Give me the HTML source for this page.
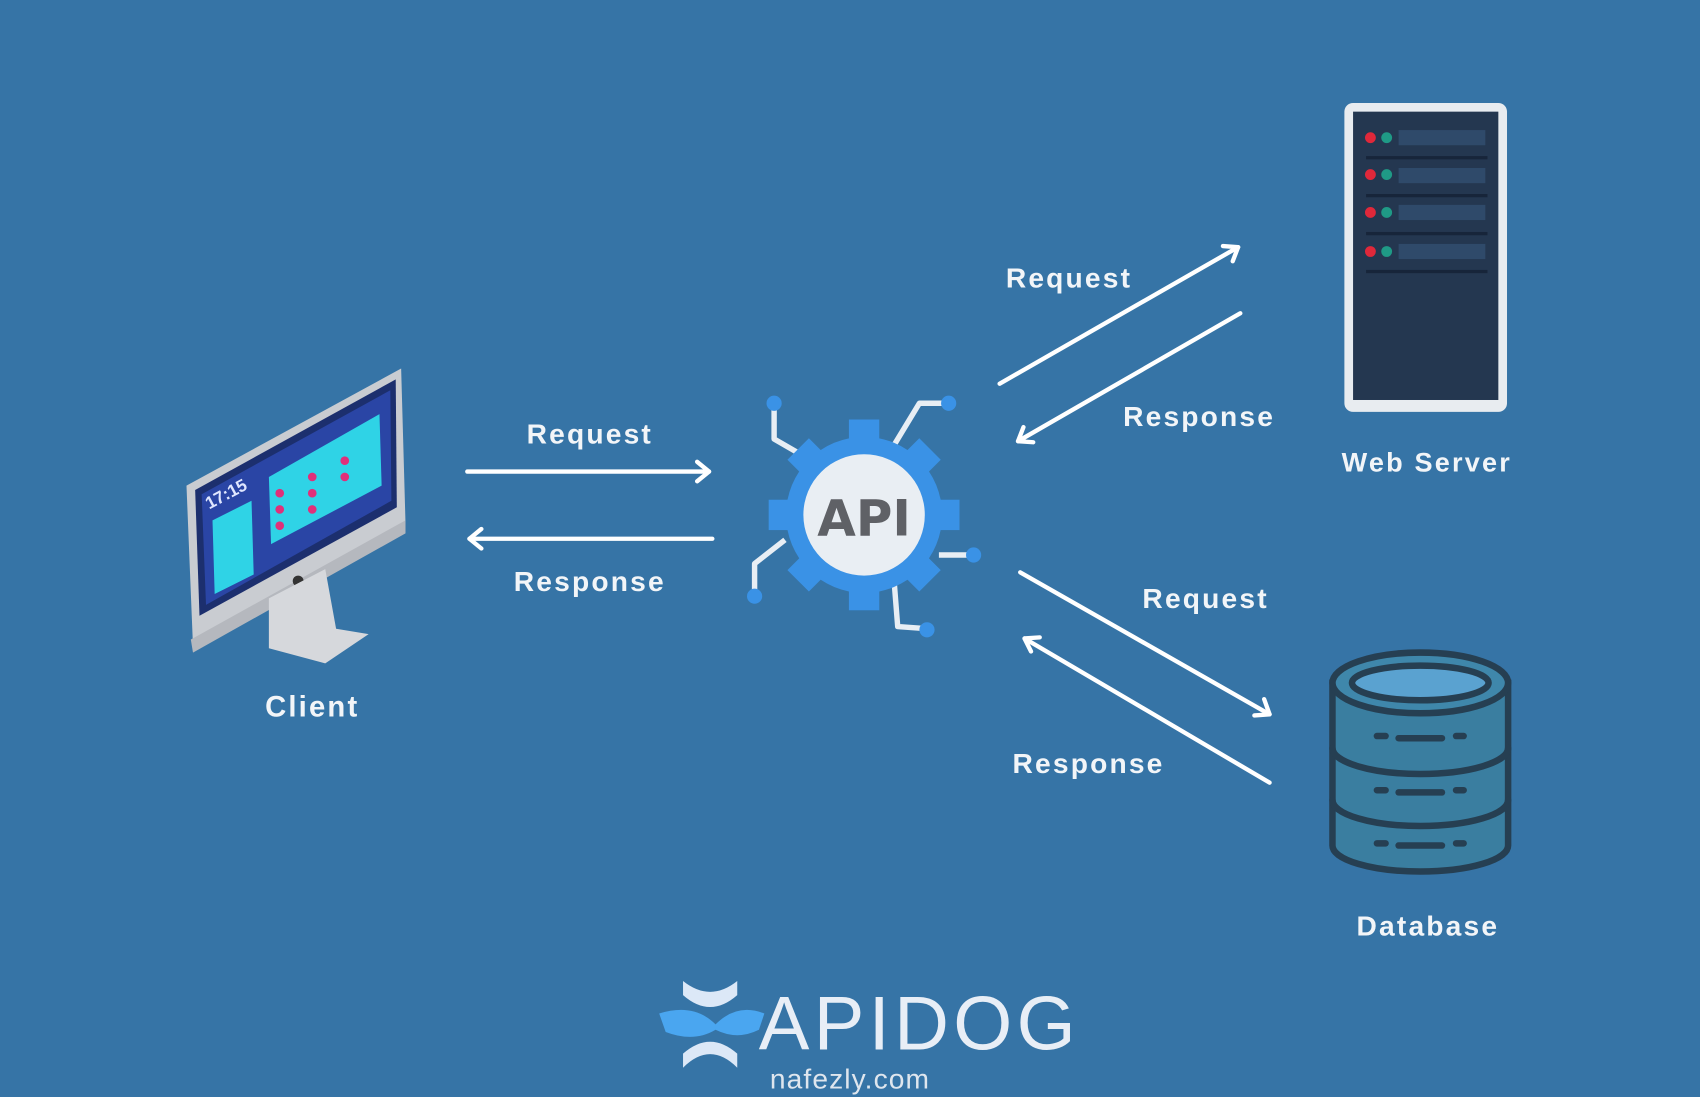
<!DOCTYPE html>
<html><head><meta charset="utf-8"><style>
html,body{margin:0;padding:0;background:#3674a6;}
svg{display:block}
text{font-family:"Liberation Sans","DejaVu Sans",sans-serif;font-weight:bold;fill:#f2f5f8;letter-spacing:2px;}
</style></head><body>
<svg width="1700" height="1097" viewBox="0 0 1568 1012" preserveAspectRatio="none" xmlns="http://www.w3.org/2000/svg">
<rect width="1568" height="1012" fill="#3674a6"/>
<!-- Monitor -->
<polygon points="172,448 370,340 374,482 178,596" fill="#c9ccd1"/>
<polygon points="180,452 365,350 366,468 184,568" fill="#1c2f6e"/>
<polygon points="186,456 360,360 361,462 190,558" fill="#2a45a5"/>
<polygon points="248,440 350,382 352,448 250,502" fill="#2fd3e6"/>
<polygon points="196,480 232,462 234,530 198,548" fill="#2fd3e6"/>
<circle cx="258" cy="455" r="4" fill="#e0307a"/><circle cx="258" cy="470" r="4" fill="#e0307a"/><circle cx="258" cy="485" r="4" fill="#e0307a"/>
<circle cx="288" cy="440" r="4" fill="#e0307a"/><circle cx="288" cy="455" r="4" fill="#e0307a"/><circle cx="288" cy="470" r="4" fill="#e0307a"/>
<circle cx="318" cy="425" r="4" fill="#e0307a"/><circle cx="318" cy="440" r="4" fill="#e0307a"/>
<text x="193" y="470" font-size="16" style="fill:#dfe6ff;letter-spacing:0" transform="rotate(-28 193 470)">17:15</text>
<polygon points="176,590 374,480 374,492 178,602" fill="#b5b8be"/>
<circle cx="275" cy="536" r="5" fill="#333"/>
<polygon points="248,552 300,525 310,580 340,585 300,612 248,598" fill="#d6d8dc"/>
<text x="288" y="661" font-size="27" text-anchor="middle">Client</text>
<!-- arrows -->
<g stroke="#fff" stroke-width="4" fill="none" stroke-linecap="round" stroke-linejoin="round">
<line x1="431" y1="435" x2="654" y2="435"/><polyline points="643,426 654,435 643,444"/>
<line x1="657" y1="497" x2="433" y2="497"/><polyline points="444,488 433,497 444,506"/>
<line x1="922" y1="354" x2="1142" y2="228"/><polyline points="1128,227 1142,228 1137,241"/>
<line x1="1144" y1="289" x2="939" y2="407"/><polyline points="944,394 939,407 953,408"/>
<line x1="941" y1="528" x2="1171" y2="659"/><polyline points="1166,645 1171,659 1157,660"/>
<line x1="1171" y1="722" x2="945" y2="589"/><polyline points="959,588 945,589 951,601"/>
</g>
<text x="544" y="409" font-size="26" text-anchor="middle">Request</text>
<text x="544" y="545" font-size="26" text-anchor="middle">Response</text>
<text x="986" y="265" font-size="26" text-anchor="middle">Request</text>
<text x="1106" y="393" font-size="26" text-anchor="middle">Response</text>
<text x="1112" y="561" font-size="26" text-anchor="middle">Request</text>
<text x="1004" y="713" font-size="26" text-anchor="middle">Response</text>
<!-- API gear -->
<g stroke="#e8eef4" stroke-width="5" fill="none" stroke-linejoin="round">
<polyline points="714,372 714,405 740,420"/>
<polyline points="825,410 848,372 875,372"/>
<polyline points="866,512 898,512"/>
<polyline points="825,540 828,578 855,580"/>
<polyline points="724,498 696,520 696,550"/>
</g>
<g fill="#3a92e6">
<circle cx="714" cy="372" r="7"/><circle cx="875" cy="372" r="7"/><circle cx="898" cy="512" r="7"/><circle cx="855" cy="581" r="7"/><circle cx="696" cy="550" r="7"/>
<circle cx="797" cy="475" r="72"/>
<g transform="translate(797 475)">
<rect x="-14" y="-88" width="28" height="30"/><rect x="-14" y="58" width="28" height="30"/>
<rect x="-88" y="-14" width="30" height="28"/><rect x="58" y="-14" width="30" height="28"/>
<g transform="rotate(45)"><rect x="-14" y="-86" width="28" height="30"/><rect x="-14" y="56" width="28" height="30"/><rect x="-86" y="-14" width="30" height="28"/><rect x="56" y="-14" width="30" height="28"/></g>
</g>
</g>
<circle cx="797" cy="475" r="56" fill="#e9eef3"/>
<text x="797" y="494" font-size="46" text-anchor="middle" style="fill:#5f6166;font-family:'DejaVu Sans',sans-serif;letter-spacing:0">API</text>
<!-- Web server -->
<rect x="1240" y="95" width="150" height="285" rx="8" fill="#e8ecf0"/>
<rect x="1248" y="103" width="134" height="266" fill="#243750"/>
<g>
<rect x="1290" y="120" width="80" height="14" fill="#2f4a6a"/><rect x="1290" y="155" width="80" height="14" fill="#2f4a6a"/><rect x="1290" y="189" width="80" height="14" fill="#2f4a6a"/><rect x="1290" y="225" width="80" height="14" fill="#2f4a6a"/>
<g fill="#17253a"><rect x="1260" y="144" width="112" height="3"/><rect x="1260" y="179" width="112" height="3"/><rect x="1260" y="214" width="112" height="3"/><rect x="1260" y="249" width="112" height="3"/></g>
<g fill="#e0283a"><circle cx="1264" cy="127" r="5"/><circle cx="1264" cy="161" r="5"/><circle cx="1264" cy="196" r="5"/><circle cx="1264" cy="232" r="5"/></g>
<g fill="#1f9a86"><circle cx="1279" cy="127" r="5"/><circle cx="1279" cy="161" r="5"/><circle cx="1279" cy="196" r="5"/><circle cx="1279" cy="232" r="5"/></g>
</g>
<text x="1316" y="435" font-size="25" text-anchor="middle">Web Server</text>
<!-- Database -->
<g stroke="#263f52" stroke-width="6" stroke-linecap="round">
<path d="M1229,630 L1229,780 A81,24 0 0 0 1391,780 L1391,630 Z" fill="#3a7ea0"/>
<path d="M1229,690 A81,24 0 0 0 1391,690" fill="none"/>
<path d="M1229,738 A81,24 0 0 0 1391,738" fill="none"/>
<ellipse cx="1310" cy="630" rx="81" ry="28" fill="#3f87ab"/>
<ellipse cx="1310" cy="630" rx="63" ry="16" fill="#5aa2d0"/>
<line x1="1270" y1="679" x2="1278" y2="679"/><line x1="1290" y1="681" x2="1330" y2="681"/><line x1="1343" y1="679" x2="1350" y2="679"/>
<line x1="1270" y1="729" x2="1278" y2="729"/><line x1="1290" y1="731" x2="1330" y2="731"/><line x1="1343" y1="729" x2="1350" y2="729"/>
<line x1="1270" y1="778" x2="1278" y2="778"/><line x1="1290" y1="780" x2="1330" y2="780"/><line x1="1343" y1="778" x2="1350" y2="778"/>
</g>
<text x="1317" y="863" font-size="26" text-anchor="middle">Database</text>
<!-- Logo -->
<g>
<path d="M630,905 Q655,925 680,905 L680,918 Q655,940 630,918 Z" fill="#dce8f7"/>
<path d="M608,935 Q640,925 660,945 Q680,925 705,935 L700,950 Q680,960 660,950 Q640,962 614,952 Z" fill="#4aa6f0"/>
<path d="M630,985 Q655,960 680,985 L680,972 Q655,950 630,972 Z" fill="#dce8f7"/>
</g>
<text x="848" y="968" font-size="70" text-anchor="middle" style="font-weight:normal;fill:#e8eef6;letter-spacing:4px">APIDOG</text>
<text x="784" y="1004" font-size="26" text-anchor="middle" style="font-weight:normal;fill:#dfe6ee;letter-spacing:1px">nafezly.com</text>
</svg>
</body></html>
